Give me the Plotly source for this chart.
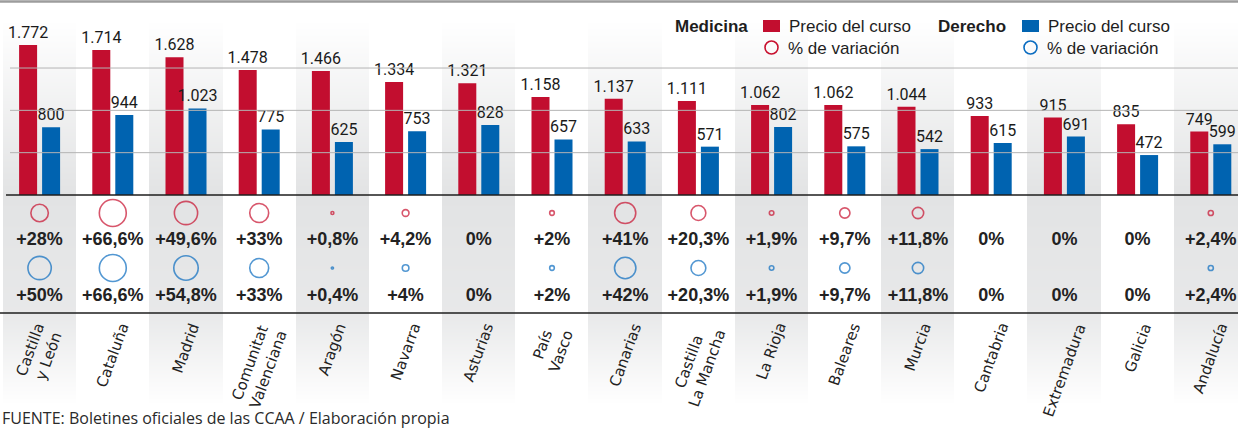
import numpy as np
import plotly.graph_objects as go

# ---------------- data ----------------
categories = ["Castilla<br>y León", "Cataluña", "Madrid", "Comunitat<br>Valenciana", "Aragón",
              "Navarra", "Asturias", "País<br>Vasco", "Canarias", "Castilla<br>La Mancha",
              "La Rioja", "Baleares", "Murcia", "Cantabria", "Extremadura", "Galicia", "Andalucía"]
medicina_precio = [1772, 1714, 1628, 1478, 1466, 1334, 1321, 1158, 1137, 1111, 1062, 1062, 1044, 933, 915, 835, 749]
derecho_precio = [800, 944, 1023, 775, 625, 753, 828, 657, 633, 571, 802, 575, 542, 615, 691, 472, 599]
medicina_var = [28, 66.6, 49.6, 33, 0.8, 4.2, 0, 2, 41, 20.3, 1.9, 9.7, 11.8, 0, 0, 0, 2.4]
derecho_var = [50, 66.6, 54.8, 33, 0.4, 4, 0, 2, 42, 20.3, 1.9, 9.7, 11.8, 0, 0, 0, 2.4]
grid_ticks = [500, 1000, 1500]
footer = "FUENTE: Boletines oficiales de las CCAA / Elaboración propia"

# ---------------- style ----------------
W, H = 1238, 430
COLW = 73.2          # px per column
X0 = -0.5 - 3 / COLW  # data x at left pixel edge
X1 = X0 + W / COLW
BASE_PX = 195         # baseline pixel
PX_PER_UNIT = 150 / 1772
YTOP = BASE_PX / PX_PER_UNIT
RED = "#c20e2f"
BLUE = "#0063b0"
RED_C = "#c8102e"
BLUE_C = "#0a6cc0"
TXT = "#222222"
NUMFONT = "Roboto, Liberation Sans, Arial, sans-serif"
SANS = "Liberation Sans, Arial, sans-serif"

n = len(categories)
xs = list(range(n))

def fmt_price(v):
    return f"{v:,}".replace(",", ".")

def fmt_pct(v):
    if v == 0:
        return "0%"
    return "+" + f"{v:g}".replace(".", ",") + "%"

fig = go.Figure()

# background alternating columns with vertical gradient (heatmap in pixel rows)
rows = np.arange(H) + 0.5
def shade(y):
    if y < 20:
        return 0.0
    if y < BASE_PX:
        return (y - 20) / (BASE_PX - 20)
    if y < 313:
        return 1.0 - 0.2 * (y - BASE_PX) / (313 - BASE_PX)
    if y < 405:
        return 0.8 * (405 - y) / (405 - 313)
    return 0.0
z = [[shade(y) if (i % 2 == 0) else 0.0 for i in xs] for y in rows]
fig.add_trace(go.Heatmap(x=xs, y=rows, z=z, xaxis="x", yaxis="y",
                         colorscale=[[0, "#ffffff"], [1, "#e2e3e4"]], zmin=0, zmax=1,
                         showscale=False, hoverinfo="skip", zsmooth=False))

# bubbles (pixel-based y axis for rows)
K = 3.3
for vals, col, ybub, ytxt in [(medicina_var, RED_C, 213, 240), (derecho_var, BLUE_C, 268, 296)]:
    bx = [x for x, v in zip(xs, vals) if v > 0]
    bs = [K * np.sqrt(v) for v in vals if v > 0]
    fig.add_trace(go.Scatter(x=bx, y=[ybub] * len(bx), mode="markers",
                             marker=dict(size=bs, color="rgba(0,0,0,0)",
                                         line=dict(color=col, width=1.6)),
                             xaxis="x", yaxis="y", showlegend=False, hoverinfo="skip",
                             cliponaxis=False))
    fig.add_trace(go.Scatter(x=xs, y=[ytxt] * n, mode="text",
                             text=[fmt_pct(v) for v in vals],
                             textfont=dict(family=SANS, size=18, color=TXT, weight="bold"),
                             xaxis="x", yaxis="y", showlegend=False, hoverinfo="skip"))

# gridlines (bar subplot, drawn above background, below bars)
for g in grid_ticks:
    fig.add_trace(go.Scatter(x=[X0 + 10 / COLW, X1], y=[g, g], mode="lines",
                             line=dict(color="#b4b4b4", width=1), xaxis="x2", yaxis="y2",
                             hoverinfo="skip", showlegend=False))

bw = 18 / COLW
fig.add_trace(go.Bar(x=xs, y=medicina_precio, width=bw, offset=-(11.5 + 9) / COLW,
                     marker=dict(color=RED, line=dict(width=0)),
                     text=[fmt_price(v) for v in medicina_precio], textposition="outside",
                     constraintext="none", cliponaxis=False,
                     outsidetextfont=dict(family=NUMFONT, size=16, color="#1a1a1a"),
                     xaxis="x2", yaxis="y2", showlegend=False, hoverinfo="skip"))
fig.add_trace(go.Bar(x=xs, y=derecho_precio, width=bw, offset=(11.5 - 9) / COLW,
                     marker=dict(color=BLUE, line=dict(width=0)),
                     text=[fmt_price(v) for v in derecho_precio], textposition="outside",
                     constraintext="none", cliponaxis=False,
                     outsidetextfont=dict(family=NUMFONT, size=16, color="#1a1a1a"),
                     xaxis="x2", yaxis="y2", showlegend=False, hoverinfo="skip"))

shapes = [
    dict(type="line", xref="paper", yref="y", x0=0, x1=1, y0=1.5, y1=1.5,
         line=dict(color="#9c9c9c", width=2.5)),
    dict(type="line", xref="x", yref="y", x0=X0 + 6 / COLW, x1=X1, y0=BASE_PX, y1=BASE_PX,
         line=dict(color="#1e1e1e", width=1.6)),
    dict(type="line", xref="paper", yref="y", x0=0, x1=1, y0=313, y1=313,
         line=dict(color="#1e1e1e", width=1.6)),
]

annotations = []
for i, c in enumerate(categories):
    annotations.append(dict(x=i, y=318, xref="x", yref="y", text=c, showarrow=False,
                            textangle=-70, xanchor="center", yanchor="top", align="center",
                            font=dict(family="DejaVu Sans", size=15, color="#222222")))
annotations.append(dict(x=0, y=418, xref="paper", yref="y", text=footer, showarrow=False,
                        xanchor="left", yanchor="middle",
                        font=dict(family="Open Sans, Noto Sans, sans-serif", size=16, color="#2a2a2a")))

# legend
def px(x):
    return x / W
for label, col, cc, xt, xsq in [("Medicina", RED, RED_C, 750, 763), ("Derecho", BLUE, BLUE_C, 1008, 1022)]:
    annotations.append(dict(x=px(xt), y=26, xref="paper", yref="y", text="<b>" + label + "</b>",
                            showarrow=False, xanchor="right", yanchor="middle",
                            font=dict(family=SANS, size=17, color="#1e1e1e")))
    shapes.append(dict(type="rect", xref="paper", yref="y", x0=px(xsq), x1=px(xsq + 17),
                       y0=20, y1=32, fillcolor=col, line=dict(width=0)))
    annotations.append(dict(x=px(xsq + 24), y=26, xref="paper", yref="y", text="Precio del curso",
                            showarrow=False, xanchor="left", yanchor="middle",
                            font=dict(family=SANS, size=17, color="#1e1e1e")))
    cx = xsq + 8.5
    shapes.append(dict(type="circle", xref="paper", yref="y", x0=px(cx - 6.5), x1=px(cx + 6.5),
                       y0=41, y1=54, line=dict(color=cc, width=1.6)))
    annotations.append(dict(x=px(xsq + 23), y=48, xref="paper", yref="y", text="% de variación",
                            showarrow=False, xanchor="left", yanchor="middle",
                            font=dict(family=SANS, size=17, color="#1e1e1e")))

fig.update_layout(
    width=W, height=H, margin=dict(l=0, r=0, t=0, b=0),
    paper_bgcolor="white", plot_bgcolor="rgba(0,0,0,0)",
    barmode="overlay",
    xaxis=dict(range=[X0, X1], domain=[0, 1], anchor="y", visible=False, fixedrange=True),
    yaxis=dict(domain=[0, 1], range=[H, 0], anchor="x", visible=False, fixedrange=True),
    xaxis2=dict(range=[X0, X1], domain=[0, 1], anchor="y2", visible=False, fixedrange=True),
    yaxis2=dict(domain=[1 - BASE_PX / H, 1], range=[0, YTOP], anchor="x2",
                visible=False, fixedrange=True),
    shapes=shapes, annotations=annotations, showlegend=False,
)

fig.write_html("out.html", config={"displayModeBar": False},
               post_script="document.body.style.margin='0';")
